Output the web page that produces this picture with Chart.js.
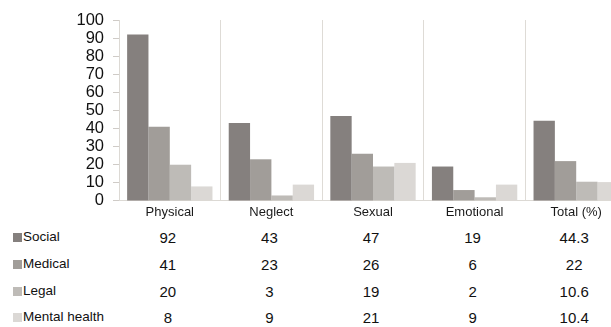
<!DOCTYPE html>
<html>
<head>
<meta charset="utf-8">
<script src="https://cdn.jsdelivr.net/npm/chart.js@4"></script>
<style>
  html, body { margin:0; padding:0; width:611px; height:327px; overflow:hidden; background:#fff; }
  #wrap { position:relative; width:611px; height:327px; overflow:hidden; }
  #c { position:absolute; left:0; top:0; }
  .lbl { position:absolute; font-family:"Liberation Sans", Arial, sans-serif; color:#111; white-space:nowrap; }
  .val { position:absolute; font-family:"Liberation Sans", Arial, sans-serif; font-size:15px; color:#111; transform:translate(-50%,-50%); white-space:nowrap; }
  .sq { position:absolute; width:9px; height:9px; }
</style>
</head>
<body>
<div id="wrap">
  <canvas id="c" width="627" height="226"></canvas>
</div>
<script>
const categories = ["Physical", "Neglect", "Sexual", "Emotional", "Total (%)"];
const seriesNames = ["Social", "Medical", "Legal", "Mental health"];
const social = [92, 43, 47, 19, 44.3];
const medical = [41, 23, 26, 6, 22];
const legal = [20, 3, 19, 2, 10.6];
const mentalHealth = [8, 9, 21, 9, 10.4];
const yTicks = [0, 10, 20, 30, 40, 50, 60, 70, 80, 90, 100];

const colors = ["#85807e", "#a19d99", "#bebbb7", "#dbd8d5"];
const seriesData = [social, medical, legal, mentalHealth];
const rowY = [237, 264, 290.5, 317];

const chart = new Chart(document.getElementById('c'), {
  type: 'bar',
  data: {
    labels: categories,
    datasets: seriesNames.map((n, i) => ({
      label: n,
      data: seriesData[i],
      backgroundColor: colors[i],
      borderWidth: 0,
      categoryPercentage: 0.84,
      barPercentage: 1.0
    }))
  },
  options: {
    responsive: false,
    animation: false,
    layout: { padding: { top: 20, right: 0, bottom: 1.5, left: 0 } },
    plugins: { legend: { display: false }, tooltip: { enabled: false } },
    scales: {
      x: {
        grid: { display: true, offset: true, drawTicks: false, color: '#dedbd6', lineWidth: 1 },
        border: { display: true, color: '#dcd9d4' },
        ticks: { font: { family: 'Liberation Sans', size: 13 }, color: '#1a1a1a', padding: 4, maxRotation: 0 }
      },
      y: {
        min: 0, max: 100,
        afterBuildTicks: (s) => { s.ticks = yTicks.map(v => ({ value: v })); },
        afterFit: (s) => { s.width = 119; },
        grid: { drawOnChartArea: false, drawTicks: true, tickLength: 6, color: '#cfcbc7' },
        border: { display: true, color: '#dcd9d4' },
        ticks: { font: { family: 'Liberation Sans', size: 16.5, lineHeight: 1.0 }, color: '#111', padding: 9, autoSkip: false }
      }
    }
  }
});

// data table below the chart, columns aligned to the chart's category scale
const wrap = document.getElementById('wrap');
const xs = chart.scales.x;
seriesNames.forEach((name, r) => {
  const sq = document.createElement('div');
  sq.className = 'sq';
  sq.style.left = '13px';
  sq.style.top = (rowY[r] - 4) + 'px';
  sq.style.background = colors[r];
  wrap.appendChild(sq);
  const lb = document.createElement('div');
  lb.className = 'lbl';
  lb.style.left = '23px';
  lb.style.top = (rowY[r] - 8) + 'px';
  lb.style.fontSize = '13.5px';
  lb.textContent = name;
  wrap.appendChild(lb);
  seriesData[r].forEach((v, i) => {
    const d = document.createElement('div');
    d.className = 'val';
    d.style.left = (xs.getPixelForValue(i) - 2) + 'px';
    d.style.top = rowY[r] + 'px';
    d.textContent = String(v);
    wrap.appendChild(d);
  });
});
</script>
</body>
</html>
